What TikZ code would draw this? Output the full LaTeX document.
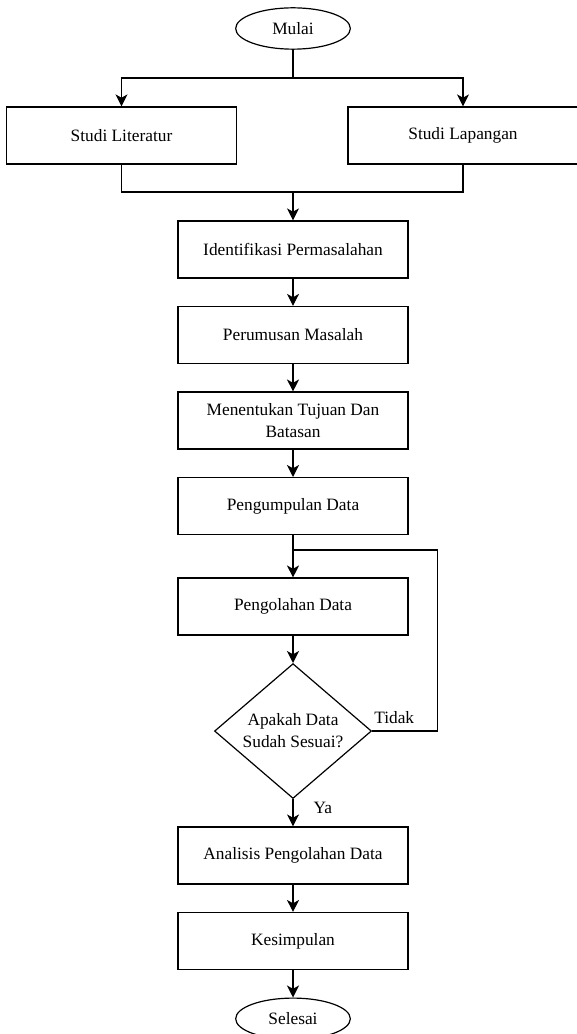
\documentclass[tikz,border=0pt]{standalone}
\usepackage{fontspec}
\setmainfont{Liberation Serif}
\usetikzlibrary{arrows.meta,positioning,shapes.geometric,calc}

\begin{document}
\begin{tikzpicture}[
  x=0.75pt, y=-0.75pt,
  node distance=20.5pt,
  font=\fontsize{13}{16.5}\selectfont,
  proc/.style={rectangle, draw=black, line width=0.9pt,
               minimum width=172.5pt, minimum height=42.75pt,
               align=center, inner sep=2pt},
  dec/.style={diamond, draw=black, line width=0.9pt,
              minimum width=117.75pt, minimum height=96pt,
              align=center, inner sep=0pt},
  term/.style={ellipse, draw=black, line width=0.9pt,
               minimum width=86pt, minimum height=31pt, inner sep=0pt},
  arr/.style={-{Stealth[length=9pt, width=9pt, inset=2.5pt]}, line width=0.9pt},
  lin/.style={line width=0.9pt},
  lbl/.style={inner sep=1pt}
]
\useasboundingbox (0,0) rectangle (577,1034);

\node[term]                     (mulai)    at (293,28.5)  {Mulai};
\node[proc]                     (lit)      at (121.5,135.5) {Studi Literatur};
\node[proc]                     (lap)      at (463,135.5) {Studi Lapangan};
\node[proc]                     (ident)    at (293,249.5) {Identifikasi Permasalahan};
\node[proc, below=of ident]     (rumus)    {Perumusan Masalah};
\node[proc, below=of rumus]     (tujuan)   {Menentukan Tujuan Dan\\Batasan};
\node[proc, below=of tujuan]    (kumpul)   {Pengumpulan Data};
\node[proc, below=31.7pt of kumpul] (olah) {Pengolahan Data};
\node[dec,  below=of olah]      (cek)      {Apakah Data\\Sudah Sesuai?};
\node[proc, below=of cek]       (analisis) {Analisis Pengolahan Data};
\node[proc, below=of analisis]  (simpul)   {Kesimpulan};
\node[term, below=of simpul]    (selesai)  {Selesai};

\coordinate (split) at (293,78);
\coordinate (merge) at (293,192);
\coordinate (rail)  at ($(cek.east)+(65,0)$);
\coordinate (join)  at ($(kumpul.south)!0.35!(olah.north)$);

\draw[lin] (mulai.south) -- (split);
\draw[arr] (split) -| (lit.north);
\draw[arr] (split) -| (lap.north);
\draw[lin] (lit.south) |- (merge);
\draw[lin] (lap.south) |- (merge);
\draw[arr] (merge)    -- (ident.north);
\draw[arr] (ident)    -- (rumus);
\draw[arr] (rumus)    -- (tujuan);
\draw[arr] (tujuan)   -- (kumpul);
\draw[arr] (kumpul)   -- (olah);
\draw[arr] (olah)     -- (cek);
\draw[arr] (cek)      -- node[lbl, pos=0.32, right=14pt]{Ya} (analisis);
\draw[arr] (analisis) -- (simpul);
\draw[arr] (simpul)   -- (selesai);

\draw[lin] (cek.east) -- node[lbl, pos=0.34, above=4pt]{Tidak} (rail) |- (join);
\end{tikzpicture}
\end{document}
